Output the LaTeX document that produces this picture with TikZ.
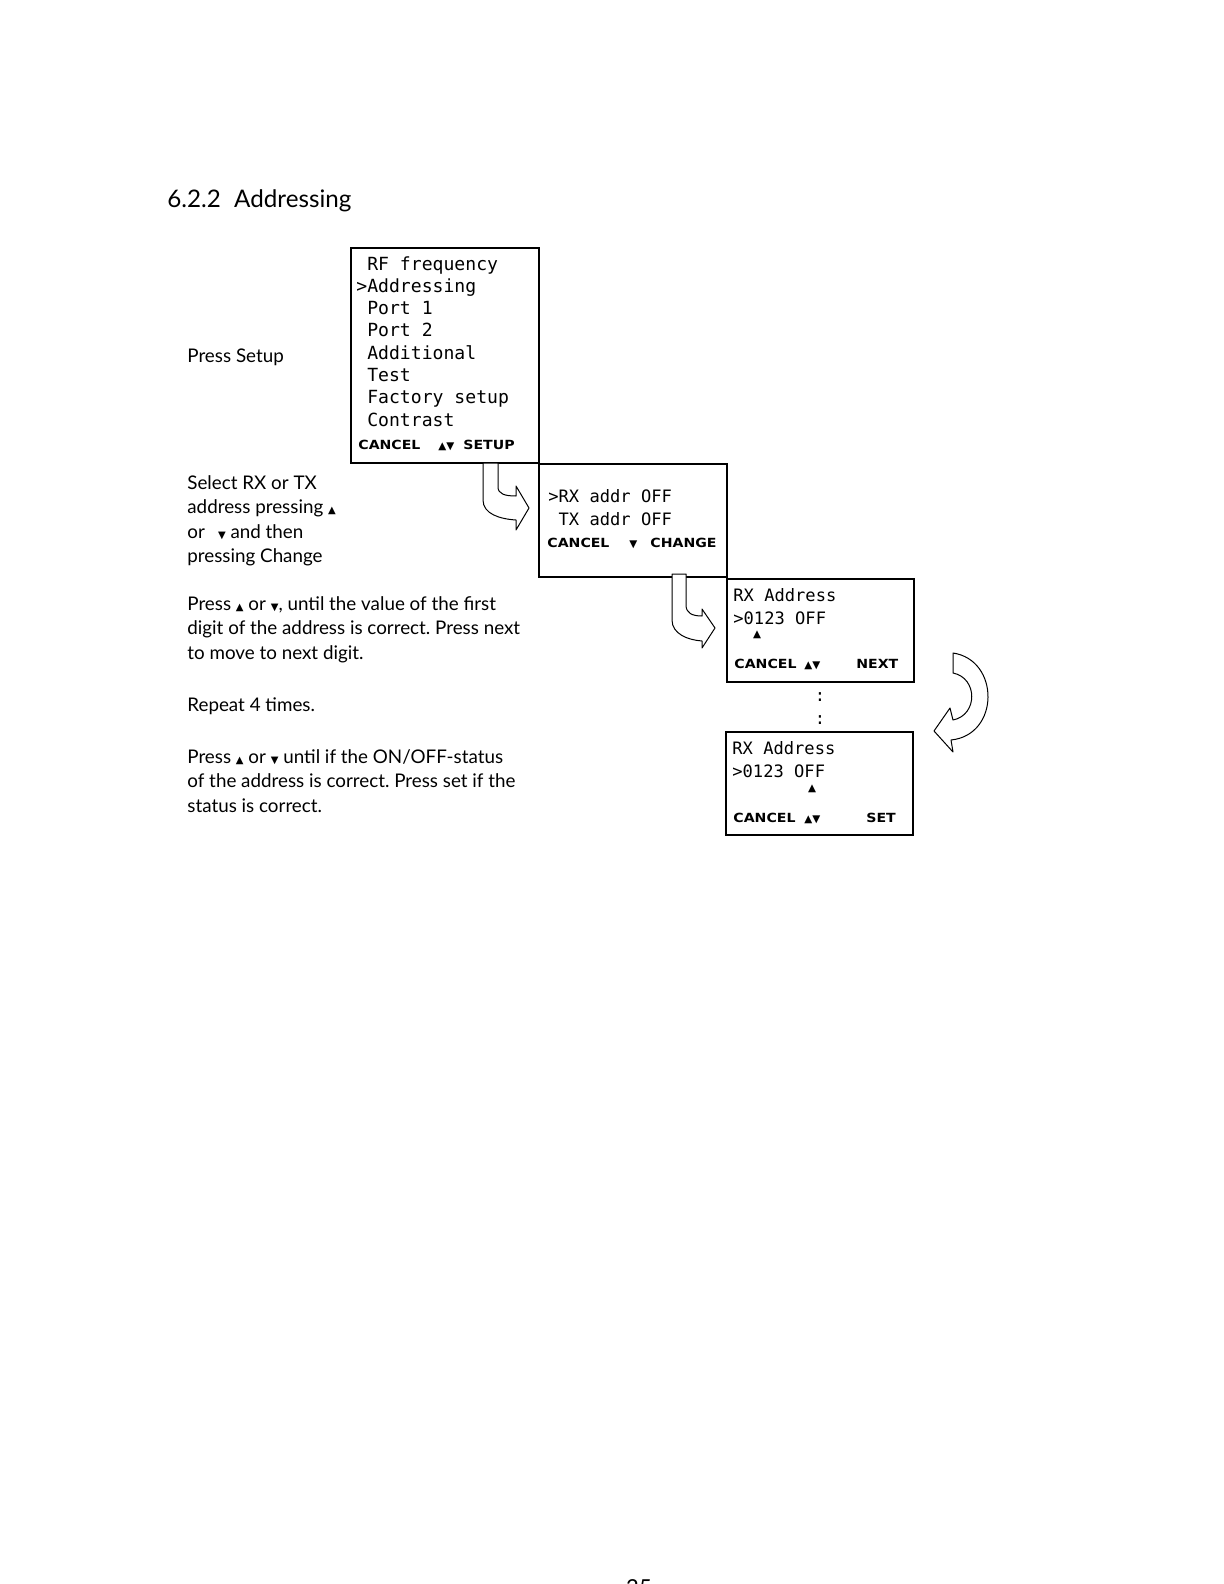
\documentclass[tikz,border=0pt]{standalone}
\usepackage{graphicx}
\usepackage{fontspec}
\setmainfont{Lato}
\newfontfamily\lcdfont{DejaVu Sans Mono}
\newfontfamily\symfont{DejaVu Sans}
\newcommand\lsp{\hphantom{0}}
\newcommand\tup{{\symfont\fontsize{5}{5}\selectfont ▲}}
\newcommand\tdn{{\symfont\fontsize{5}{5}\selectfont ▼}}
\newcommand\kx[1]{\scalebox{1.12}[1]{#1}}
\frenchspacing
\tikzset{
  lcdbox/.style={draw, line width=1pt, inner sep=0pt},
  lcdtext/.style={anchor=base west, inner sep=0pt, align=left, font=\lcdfont\fontsize{8.55}{11.15}\selectfont},
  lcdbig/.style={lcdtext, font=\lcdfont\fontsize{9.05}{11.15}\selectfont},
  keytext/.style={anchor=base west, inner sep=0pt, font=\symfont\bfseries\fontsize{6.3}{7}\selectfont},
  keysym/.style={anchor=base west, inner sep=0pt, font=\symfont\fontsize{5.2}{6}\selectfont},
  body/.style={anchor=base west, inner sep=0pt, align=left, font=\fontsize{9.4}{12.3}\selectfont},
  hollow/.style={draw, line width=0.5pt, fill=white, line join=round},
}
\begin{document}
\begin{tikzpicture}[x=0.5pt, y=-0.5pt]
\useasboundingbox (0,0) rectangle (1224,1584);
\fill[white] (0,0) rectangle (1224,1584);

% heading
\node[anchor=base west, inner sep=0pt, font=\fontsize{12.1}{14}\selectfont] (title) at (167,207) {6.2.2\hspace{0.55em}Addressing};

% explanations (base anchor = baseline of the last line)
\node[body] (t1) at (187,362) {Press Setup};
\node[body] (t2) at (187,562.8) {Select RX or TX\\address pressing \tup\\or\hspace{0.7em}\tdn{} and then\\pressing Change};
\node[body] (t3) at (187,659.2) {Press \tup{} or \tdn, until the value of the first\\digit of the address is correct. Press next\\to move to next digit.};
\node[body] (t4) at (187,711) {Repeat 4 times.};
\node[body] (t5) at (187,812.2) {Press \tup{} or \tdn{} until if the ON/OFF-status\\of the address is correct. Press set if the\\status is correct.};

% LCD boxes
\node[lcdbox, minimum width=94pt, minimum height=107.5pt] (b1) at (445,355.5) {};
\node[lcdbox, minimum width=94pt, minimum height=56.5pt] (b2) at (633,520.5) {};
\node[lcdbox, minimum width=93.5pt, minimum height=51.5pt] (b3) at (820.5,630.5) {};
\node[lcdbox, minimum width=93.5pt, minimum height=51.5pt] (b4) at (819.5,783.5) {};

% box 1 content
\node[lcdbig] (m1) at (356,426.1) {\lsp RF frequency\\>Addressing\\\lsp Port 1\\\lsp Port 2\\\lsp Additional\\\lsp Test\\\lsp Factory setup\\\lsp Contrast};
\node[keytext] (k1a) at (358,449) {\kx{CANCEL}};
\node[keysym] (k1b) at (438,449) {▲▼};
\node[keytext] (k1c) at (463,449) {\kx{SETUP}};

% box 2 content
\node[lcdtext] (m2) at (548,525) {>RX addr OFF\\\lsp TX addr OFF};
\node[keytext] (k2a) at (547,547) {\kx{CANCEL}};
\node[keysym] (k2b) at (629,547) {▼};
\node[keytext] (k2c) at (650,547) {\kx{CHANGE}};

% box 3 content
\node[lcdtext] (m3) at (733,624) {RX Address\\>0123 OFF};
\node[keysym, anchor=base] (c3) at (757,637) {▲};
\node[keytext] (k3a) at (734,668) {\kx{CANCEL}};
\node[keysym] (k3b) at (804,668) {▲▼};
\node[keytext] (k3c) at (856,668) {\kx{NEXT}};

% continuation dots
\node[lcdtext, anchor=center] (d1) at (820,697) {:};
\node[lcdtext, anchor=center] (d2) at (820,720) {:};

% box 4 content
\node[lcdtext] (m4) at (732,777) {RX Address\\>0123 OFF};
\node[keysym, anchor=base] (c4) at (812,791) {▲};
\node[keytext] (k4a) at (733,822) {\kx{CANCEL}};
\node[keysym] (k4b) at (804,822) {▲▼};
\node[keytext] (k4c) at (866,822) {\kx{SET}};

% hollow arrows
\draw[hollow] (483,463) -- (483,500) .. controls (483,514) and (500,519) .. (516,520)
  -- (516,530) -- (529,508) -- (516,486) -- (516,496)
  .. controls (505,496) and (498,494) .. (498,487) -- (498,463) -- cycle;
\draw[hollow] (672,574) -- (672,620) .. controls (672,634) and (688,640) .. (702,641)
  -- (702,648) -- (715,628) -- (702,609) -- (702,616)
  .. controls (692,616) and (686,613) .. (686,605) -- (686,574) -- cycle;
\draw[hollow] (953,653) .. controls (1000,660) and (1000,735) .. (951,740)
  -- (953,752) -- (934,731) -- (950,708) -- (953,720)
  .. controls (978,715) and (978,678) .. (953,673) -- cycle;

% page number (cut off at the bottom edge, as in the reference)
\node[anchor=north, inner sep=0pt, font=\fontsize{11}{11}\selectfont] (pg) at (639,1579) {25};
\end{tikzpicture}
\end{document}
